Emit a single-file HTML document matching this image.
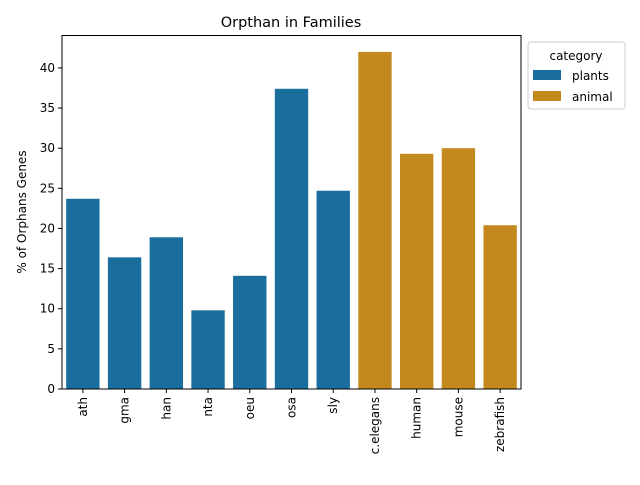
<!DOCTYPE html>
<html><head><meta charset="utf-8"><style>
body{margin:0;background:#fff;font-family:"Liberation Sans","DejaVu Sans",sans-serif}
</style></head><body>
<svg id="c" width="640" height="480" xmlns="http://www.w3.org/2000/svg" font-family="DejaVu Sans, Liberation Sans, sans-serif">
<text x="291" y="27" text-anchor="middle" font-size="14.5">Orpthan in Families</text>
<text transform="translate(26,212) rotate(-90)" text-anchor="middle" font-size="12">% of Orphans Genes</text>
<g id="bars"></g><g id="yt"></g><g id="xt"></g>
<rect x="62" y="35.5" width="459" height="353.5" fill="none" stroke="#000" stroke-width="1"/>
<g>
<rect x="528" y="42" width="97" height="67" rx="3" fill="#fff" stroke="#ccc"/>
<text x="576" y="60" text-anchor="middle" font-size="12">category</text>
<rect x="533" y="70" width="28" height="10" fill="#1a6e9e"/>
<text x="572" y="80" font-size="12">plants</text>
<rect x="533" y="91" width="28" height="10" fill="#c3891f"/>
<text x="572" y="101" font-size="12">animal</text>
</g>
</svg>
<script>
const categories=["ath","gma","han","nta","oeu","osa","sly","c.elegans","human","mouse","zebrafish"];
const values=[23.7,16.4,18.9,9.8,14.1,37.4,24.7,42.0,29.3,30.0,20.4];
const groups=["plants","plants","plants","plants","plants","plants","plants","animal","animal","animal","animal"];
const yTicks=[0,5,10,15,20,25,30,35,40];
const NS="http://www.w3.org/2000/svg";
const x0=62,x1=521,y0=389,yMax=44.1,yTop=35;
const bw=(x1-x0)/categories.length;
const X=i=>x0+bw*i;
const Y=v=>y0-(v/yMax)*(y0-yTop);
const colors={plants:"#1a6e9e",animal:"#c3891f"};
function mk(t,a,p){const e=document.createElementNS(NS,t);for(const k in a)e.setAttribute(k,a[k]);p.appendChild(e);return e;}
const gb=document.getElementById('bars'),gy=document.getElementById('yt'),gx=document.getElementById('xt');
values.forEach((v,i)=>{
 const r=mk('rect',{x:X(i)+bw*0.1,y:Y(v),width:bw*0.8,height:y0-Y(v),fill:colors[groups[i]]},gb);
 
 
 const cx=X(i)+bw/2;
 mk('line',{x1:cx,x2:cx,y1:y0,y2:y0+4,stroke:'#000'},gx);
 const t=mk('text',{transform:`translate(${cx+4},${y0+8}) rotate(-90)`,'text-anchor':'end','font-size':12},gx);
 t.textContent=categories[i];
 
 
});
yTicks.forEach(v=>{
 const y=Y(v);
 mk('line',{x1:x0-4,x2:x0,y1:y,y2:y,stroke:'#000'},gy);
 const t=mk('text',{x:x0-7,y:y+4,'text-anchor':'end','font-size':12},gy);
 t.textContent=v;
 
 
});
</script>
</body></html>
